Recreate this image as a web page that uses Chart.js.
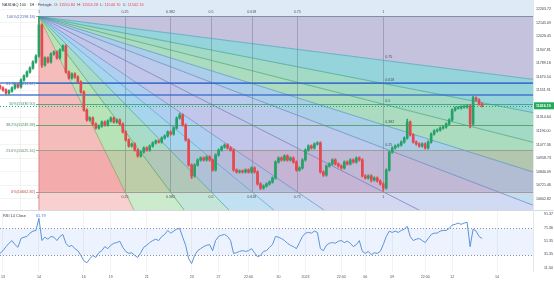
<!DOCTYPE html>
<html><head><meta charset="utf-8">
<script src="https://cdn.jsdelivr.net/npm/chart.js@4.4.1/dist/chart.umd.min.js"></script>
<style>
html,body{margin:0;padding:0;background:#fff;overflow:hidden;}
#wrap{position:relative;width:554px;height:282px;}
canvas{position:absolute;left:0;}
#c1{top:0;} #c2{top:210px;}
</style></head><body>
<div id="wrap"><canvas id="c1" width="554" height="210"></canvas><canvas id="c2" width="554" height="72"></canvas></div>
<script>
// ---------- data ----------
const closes = [11572,11555,11528,11546,11572,11598,11581,11642,11677,11712,11747,11800,11852,12124,11773,11835,11800,11870,11887,11835,
11905,11940,11712,11660,11695,11668,11625,11537,11379,11292,11309,11257,11222,11239,11274,11248,11283,11309,11274,11292,
11257,11187,11117,11064,11082,11029,10977,11012,11047,11029,11064,11091,11108,11099,11134,11152,11187,11169,11222,11309,
11336,11248,11117,10898,10802,10898,10942,10959,10942,10968,10942,10854,10985,11029,11055,11073,11047,11029,10854,10837,
10845,10837,10854,10837,10872,10837,10732,10696,10714,10732,10749,10784,10924,10959,10942,10977,10942,10959,10924,10854,
10872,10942,11029,11064,11047,11082,11091,10837,10810,10889,10907,10942,10907,10889,10872,10924,10907,10942,10924,10959,
10942,10802,10784,10802,10767,10784,10758,10732,10696,10854,11011,11047,11064,11073,11099,11134,11274,11161,11099,11082,
11064,11082,11047,11099,11169,11196,11204,11222,11231,11257,11292,11379,11397,11397,11406,11406,11414,11257,11485,11467,
11432,11416];
const firstOpen = 11590;
const highSpikes = {13:12198.18, 60:11352, 136:11300, 158:11500};
const lowSpikes = {14:11752, 64:10780, 87:10682, 108:10798, 124:10750, 128:10672, 157:11222};
const rsiValues = [33,37,43,48,52,46,42,55,57,58,63,66,67,85,52,57,54,58,57,52,
58,61,48,43,45,40,37,30,22,19,25,30,27,34,37,43,40,45,48,49,
51,42,36,33,34,30,27,34,42,45,49,52,54,52,58,61,67,63,66,69,
70,57,45,25,18,30,37,40,43,45,46,37,52,58,60,61,58,52,33,34,
36,37,36,37,40,34,28,30,36,37,42,46,58,57,55,52,48,45,43,40,
49,58,63,64,63,66,64,40,37,45,48,49,48,51,52,49,51,48,43,46,
52,36,33,36,31,34,33,36,46,58,66,64,66,64,67,69,73,58,52,54,
55,52,49,55,61,63,63,66,67,67,70,75,76,78,76,78,79,43,69,66,
58,55];
const priceTicks = [12263.72,12145.09,12026.45,11907.81,11789.18,11670.54,11551.91,11314.64,11196.00,11077.36,10958.73,10840.09,10721.46,10602.82];
const rsiTicks = [91.37,71.36,51.35,31.35,11.34];
const timeTickIdx = [1,13,28,37,49,64,73,83,93,102,114,122,131,142,151,166];
const timeTickText = ['13','14','16','19','21','23','27','22:00','30','2023','22:00','06','09','22:00','12','14'];
const fanStart = {i:13, p:12198.18};
const fanEnd = {i:128, p:10662.82};
const fanPriceLevels = [1,0.75,0.618,0.5,0.382,0.25,0];
const fanTimeLevels = [0.75,0.618,0.5,0.382,0.25,0];
const fanGridLevels = [0.25,0.382,0.5,0.618,0.75,1];
const fanGridText = ['0.25','0.382','0.5','0.618','0.75','1'];
const fanSideLevels = [0.75,0.618,0.5,0.382,0.25];
const fanSideText = ['0.75','0.618','0.5','0.382','0.25'];
const retrLevels = [1,0.618,0.5,0.382,0.236,0];
const retrText = ['100%(12198.18)','61.8%(11611.67)','50%(11430.50)','38.2%(11249.33)','23.6%(11025.16)','0%(10662.82)'];
const hLines = [11616.45, 11511.20];
const lastPrice = 11416.19;
const headerParts = [['NASDAQ 100 · 1H · Fintogle','#3a3e4a'],['  O: ','#555'],['11550.84','#e5484d'],['  H: ','#555'],['11554.28','#e5484d'],['  L: ','#555'],['11540.70','#e5484d'],['  C: ','#555'],['11542.16','#e5484d']];
const rsiTitle = 'RSI 14 Close';
const rsiValueText = '61.79';
const rsiBand = [70, 30];

// ---------- styling ----------
const FONT = "'Liberation Sans', Arial, sans-serif";
const UP = '#26a269', DOWN = '#e5484d';
const sectorColors = ['#c5c2de','#95d4da','#a3dac6','#acdcbf','#abcfe9','#bccbec','#c2c6ea','#b0cff0','#a7d5ec','#a9dcc8','#b7e3b7','#f5bcbc'];
const fanLineColors = ['#6f7fa8','#3f9fb5','#2f9f8f','#3f9f6a','#4a8fbf','#5a7fc0','#6a6fb0','#5a86c8','#3f9fcf','#2f9f8f','#3f9f5a','#7a9f5a','#d06a6a'];
const retrColors = ['#7e8aa8','#3a6fd0','#3a9a7a','#4a9a5a','#8a9a8a','#9a8a8a'];
const retrLabelColors = ['#4f6fb0','#3f6fc0','#3a8a6a','#3a8a5a','#6a8a6a','#c04848'];

const PMAX = 12342.52, PMIN = 10503.88;
const XMIN = 0, XMAX = 178;

const opens = closes.map((c,i)=> i===0 ? firstOpen : closes[i-1]);
const wick = 10;
const highs = closes.map((c,i)=> highSpikes[i] !== undefined ? highSpikes[i] : Math.max(c,opens[i])+wick);
const lows = closes.map((c,i)=> lowSpikes[i] !== undefined ? lowSpikes[i] : Math.min(c,opens[i])-wick);
const cols = closes.map((c,i)=> c>=opens[i] ? UP : DOWN);

const fanPlugin = {
  id:'fan',
  beforeDatasetsDraw(chart){
    const {ctx, chartArea:a, scales:{x:xs, y:ys}} = chart;
    const X = v=>xs.getPixelForValue(v), Y = v=>ys.getPixelForValue(v);
    const ox = fanStart.i, op = fanStart.p, dx = fanEnd.i-fanStart.i, dp = fanEnd.p-fanStart.p;
    ctx.save();
    ctx.beginPath(); ctx.rect(a.left,a.top,a.right-a.left,a.bottom-a.top); ctx.clip();
    ctx.fillStyle = '#dfeaf7';
    ctx.fillRect(X(ox), a.top, a.right-X(ox), Y(op)-a.top);
    const K = 3, far = [];
    fanPriceLevels.forEach(L=>far.push([ox+K*dx, op+K*(1-L)*dp]));
    fanTimeLevels.forEach(L=>far.push([ox+K*L*dx, op+K*dp]));
    sectorColors.forEach((col,k)=>{
      ctx.beginPath(); ctx.moveTo(X(ox),Y(op));
      ctx.lineTo(X(far[k][0]),Y(far[k][1])); ctx.lineTo(X(far[k+1][0]),Y(far[k+1][1]));
      ctx.closePath(); ctx.fillStyle = col; ctx.fill();
    });
    // red 0-0.236 band
    const p236 = fanEnd.p + 0.236*(op-fanEnd.p);
    ctx.fillStyle = 'rgba(235,60,70,0.13)';
    ctx.fillRect(X(ox), Y(p236), a.right-X(ox), Y(fanEnd.p)-Y(p236));
    // paler zone below the 0 level
    ctx.fillStyle = 'rgba(255,255,255,0.3)';
    ctx.fillRect(X(ox), Y(fanEnd.p), a.right-X(ox), a.bottom-Y(fanEnd.p));
    // fan grid verticals
    ctx.lineWidth = 1; ctx.strokeStyle = 'rgba(90,95,120,0.35)';
    fanGridLevels.forEach(L=>{
      const px = Math.round(X(ox+L*dx))+0.5;
      ctx.beginPath(); ctx.moveTo(px, Y(op)); ctx.lineTo(px, Y(fanEnd.p)); ctx.stroke();
    });
    // fan lines
    ctx.lineWidth = 0.9;
    far.forEach((f,k)=>{
      ctx.strokeStyle = fanLineColors[k]; ctx.globalAlpha = 0.75;
      ctx.beginPath(); ctx.moveTo(X(ox),Y(op)); ctx.lineTo(X(f[0]),Y(f[1])); ctx.stroke();
    });
    ctx.globalAlpha = 1;
    // retracement lines
    retrLevels.forEach((r,k)=>{
      const py = Math.round(Y(fanEnd.p + r*(op-fanEnd.p)))+0.5;
      ctx.strokeStyle = retrColors[k]; ctx.globalAlpha = 0.8; ctx.lineWidth = 1;
      ctx.beginPath(); ctx.moveTo(X(ox)-3, py); ctx.lineTo(a.right, py); ctx.stroke();
    });
    ctx.globalAlpha = 1;
    // horizontal blue lines
    hLines.forEach(h=>{
      const py = Y(h);
      ctx.strokeStyle = 'rgba(50,105,200,0.85)'; ctx.lineWidth = 1.4;
      ctx.beginPath(); ctx.moveTo(a.left, py); ctx.lineTo(a.right, py); ctx.stroke();
    });
    // current price dotted
    const cy = Math.round(Y(lastPrice))+0.5;
    ctx.setLineDash([1,2]); ctx.strokeStyle = '#22a862'; ctx.lineWidth = 1;
    ctx.beginPath(); ctx.moveTo(a.left, cy); ctx.lineTo(a.right, cy); ctx.stroke();
    ctx.setLineDash([]);
    ctx.restore();
  },
  afterDatasetsDraw(chart){
    const {ctx, chartArea:a, scales:{x:xs, y:ys}} = chart;
    const X = v=>xs.getPixelForValue(v), Y = v=>ys.getPixelForValue(v);
    const ox = fanStart.i, op = fanStart.p, dx = fanEnd.i-fanStart.i;
    ctx.save();
    ctx.font = '3.6px '+FONT; ctx.textBaseline = 'middle';
    ctx.fillStyle = '#4a4e5a'; ctx.textAlign = 'center';
    fanGridLevels.forEach((L,k)=>{
      const px = X(ox+L*dx);
      ctx.fillText(fanGridText[k], px, Y(op)-4);
      ctx.fillText(fanGridText[k], px, Y(fanEnd.p)+5);
    });
    ctx.fillText('1', X(ox), Y(op)-4);
    ctx.fillText('1', X(ox)-1, Y(fanEnd.p)+5);
    ctx.textAlign = 'left';
    fanSideLevels.forEach((L,k)=>{
      ctx.fillText(fanSideText[k], X(fanEnd.i)+2, Y(fanEnd.p+L*(op-fanEnd.p))-3);
    });
    ctx.textAlign = 'right'; ctx.font = '3.8px '+FONT;
    retrLevels.forEach((r,k)=>{
      ctx.fillStyle = retrLabelColors[k];
      ctx.fillText(retrText[k], X(ox)-4, Y(fanEnd.p + r*(op-fanEnd.p)));
    });
    ctx.restore();
  },
  afterDraw(chart){
    const {ctx, chartArea:a, scales:{y:ys}} = chart;
    ctx.save();
    ctx.strokeStyle = '#e3e6ec'; ctx.lineWidth = 1;
    ctx.beginPath(); ctx.moveTo(a.right+0.5, 0); ctx.lineTo(a.right+0.5, a.bottom); ctx.stroke();
    const cy = ys.getPixelForValue(lastPrice);
    ctx.fillStyle = '#22ab5a';
    ctx.fillRect(a.right+1, cy-3.5, 20, 7);
    ctx.fillStyle = '#fff'; ctx.font = 'bold 3.6px '+FONT; ctx.textBaseline='middle'; ctx.textAlign='left';
    ctx.fillText(lastPrice.toFixed(2), a.right+3, cy);
    ctx.font = '3.9px '+FONT; ctx.textBaseline = 'middle';
    let x = 2;
    headerParts.forEach(([t,c])=>{ ctx.fillStyle = c; ctx.fillText(t, x, 5); x += ctx.measureText(t).width; });
    ctx.restore();
  }
};

const chart1 = new Chart(document.getElementById('c1'), {
  type:'bar',
  data:{datasets:[
    {data: closes.map((c,i)=>({x:i, y:[lows[i], highs[i]]})), backgroundColor: cols, barThickness:1, grouped:false, order:2},
    {data: closes.map((c,i)=>({x:i, y:[Math.min(c,opens[i]), Math.max(c,opens[i])]})), backgroundColor: cols, barThickness:2, minBarLength:1, grouped:false, order:1}
  ]},
  options:{
    responsive:false, animation:false, devicePixelRatio:1,
    layout:{padding:0},
    plugins:{legend:{display:false}, tooltip:{enabled:false}},
    scales:{
      x:{type:'linear', min:XMIN, max:XMAX, offset:false,
        ticks:{display:false}, grid:{color:'rgba(42,46,57,0.06)', drawTicks:false}, border:{display:false},
        afterBuildTicks:s=>{ s.ticks = timeTickIdx.map(v=>({value:v})); },
        afterFit:s=>{ s.height = 0; s.paddingLeft = 0; s.paddingRight = 0; }},
      y:{position:'right', min:PMIN, max:PMAX,
        ticks:{font:{size:3.6, family:FONT}, color:'#3a3e4a', padding:3, autoSkip:false, callback:v=>Number(v).toFixed(2)},
        grid:{color:'rgba(42,46,57,0.05)', drawTicks:false}, border:{display:false},
        afterBuildTicks:s=>{ s.ticks = priceTicks.map(v=>({value:v})); },
        afterFit:s=>{ s.width = 21; s.paddingTop = 0; s.paddingBottom = 0; }}
    }
  },
  plugins:[fanPlugin]
});

const rsiPlugin = {
  id:'rsiDeco',
  beforeDatasetsDraw(chart){
    const {ctx, chartArea:a, scales:{y:ys}} = chart;
    const y70 = ys.getPixelForValue(rsiBand[0]), y30 = ys.getPixelForValue(rsiBand[1]);
    ctx.save();
    ctx.fillStyle = 'rgba(41,121,255,0.09)';
    ctx.fillRect(a.left, y70, a.right-a.left, y30-y70);
    ctx.setLineDash([1,2]); ctx.strokeStyle = '#8a8f9c'; ctx.lineWidth = 1;
    [y70,y30].forEach(py=>{ const p = Math.round(py)+0.5; ctx.beginPath(); ctx.moveTo(a.left,p); ctx.lineTo(a.right,p); ctx.stroke(); });
    ctx.restore();
  },
  afterDraw(chart){
    const {ctx, chartArea:a} = chart;
    ctx.save();
    ctx.strokeStyle = '#d6d9e0'; ctx.lineWidth = 1;
    ctx.beginPath(); ctx.moveTo(0,0.5); ctx.lineTo(554,0.5); ctx.stroke();
    ctx.strokeStyle = '#e3e6ec';
    ctx.beginPath(); ctx.moveTo(a.right+0.5,0); ctx.lineTo(a.right+0.5,a.bottom); ctx.stroke();
    ctx.font = '3.9px '+FONT; ctx.textBaseline = 'middle'; ctx.textAlign='left';
    ctx.fillStyle = '#3a3e4a'; ctx.fillText(rsiTitle, 3, 6);
    const w = ctx.measureText(rsiTitle).width;
    ctx.fillStyle = '#3d7fd9'; ctx.fillText(rsiValueText, 3+w+10, 6);
    ctx.restore();
  }
};

const chart2 = new Chart(document.getElementById('c2'), {
  type:'line',
  data:{datasets:[{data: rsiValues.map((v,i)=>({x:i,y:v})), borderColor:'#5b93d8', borderWidth:1, pointRadius:0, tension:0}]},
  options:{
    responsive:false, animation:false, devicePixelRatio:1,
    layout:{padding:0},
    plugins:{legend:{display:false}, tooltip:{enabled:false}},
    scales:{
      x:{type:'linear', min:XMIN, max:XMAX, offset:false,
        ticks:{font:{size:3.6, family:FONT}, color:'#50535e', padding:3, autoSkip:false, maxRotation:0,
          callback:v=>{ const k = timeTickIdx.indexOf(v); return k>=0 ? timeTickText[k] : ''; }},
        grid:{color:'rgba(42,46,57,0.06)', drawTicks:false}, border:{display:false},
        afterBuildTicks:s=>{ s.ticks = timeTickIdx.map(v=>({value:v})); },
        afterFit:s=>{ s.height = 10; s.paddingLeft = 0; s.paddingRight = 0; }},
      y:{position:'right', min:5.4, max:97.3,
        ticks:{font:{size:3.6, family:FONT}, color:'#3a3e4a', padding:3, autoSkip:false, callback:v=>Number(v).toFixed(2)},
        grid:{display:false}, border:{display:false},
        afterBuildTicks:s=>{ s.ticks = rsiTicks.map(v=>({value:v})); },
        afterFit:s=>{ s.width = 21; s.paddingTop = 0; s.paddingBottom = 0; }}
    }
  },
  plugins:[rsiPlugin]
});
</script>
</body></html>
